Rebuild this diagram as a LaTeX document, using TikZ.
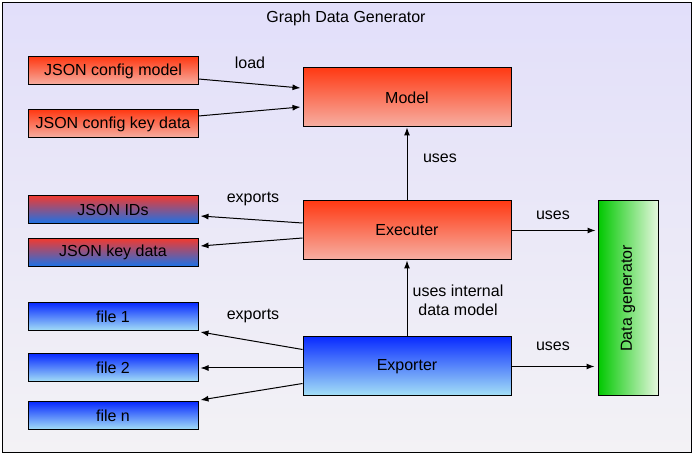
\documentclass[tikz,border=0pt]{standalone}
\usepackage{fontspec}
\setmainfont{Liberation Sans}
\usetikzlibrary{arrows.meta,calc}
\definecolor{bgtop}{HTML}{E2DFFA}
\definecolor{bgbot}{HTML}{F3F2F5}
\definecolor{redtop}{HTML}{FF3A14}
\definecolor{redbot}{HTML}{F6B0A4}
\definecolor{rbtop}{HTML}{F03A30}
\definecolor{rbbot}{HTML}{1A72E8}
\definecolor{bluetop}{HTML}{0A2CFF}
\definecolor{bluebot}{HTML}{A6E2F6}
\definecolor{greenl}{HTML}{00C800}
\definecolor{greenr}{HTML}{E6F7DE}
\tikzset{
  box/.style={draw=black, line width=0.75pt, rectangle, inner sep=0pt,
    font=\fontsize{12}{14}\selectfont},
  redbox/.style={box, top color=redtop, bottom color=redbot},
  rbbox/.style={box, top color=rbtop, bottom color=rbbot},
  bluebox/.style={box, top color=bluetop, bottom color=bluebot},
  small/.style={minimum width=127.5pt, minimum height=21pt},
  big/.style={minimum width=156pt, minimum height=44.25pt},
  conn/.style={line width=0.75pt, -{Latex[length=6pt,width=4.5pt]}},
  lbl/.style={font=\fontsize{12}{14}\selectfont, align=center, inner sep=0pt}
}
\begin{document}
\begin{tikzpicture}[x=0.75pt,y=-0.75pt]
\useasboundingbox (0,0) rectangle (694,456);
\path[draw=black, line width=0.75pt, top color=bgtop, bottom color=bgbot] (2.5,2.5) rectangle (691,453);
\node[lbl] (title) at (346,18) {Graph Data Generator};

\node[redbox, small] (cm) at (113,71) {JSON config model};
\node[redbox, small] (ck) at (113,124) {JSON config key data};
\node[rbbox, small] (ids) at (113,209.5) {JSON IDs};
\node[rbbox, small] (kd) at (113,252.5) {JSON key data};
\node[bluebox, small] (f1) at (113,317) {file 1};
\node[bluebox, small] (f2) at (113,368) {file 2};
\node[bluebox, small] (fn) at (113,416) {file n};

\node[redbox, big] (model) at (407,97.5) {Model};
\node[redbox, big] (exec) at (407,230.5) {Executer};
\node[bluebox, big] (expo) at (407,366.5) {Exporter};
\node[box, minimum width=45pt, minimum height=146.25pt, left color=greenl, right color=greenr] (dg) at (628,298.5) {};
\node[lbl, rotate=90] (dgt) at (dg.center) {Data generator};

% load arrows
\draw[conn] ($(cm.east)+(0,8)$) -- ($(model.west)+(-2,-9.5)$);
\draw[conn] ($(ck.east)+(0,-8)$) -- ($(model.west)+(-2,9.5)$);
\node[lbl] (l1) at (250,63) {load};

% uses model
\draw[conn] (exec.north) -- (model.south);
\node[lbl] (l2) at (440,158) {uses};

% exports json
\draw[conn] ($(exec.west)+(0,-7.5)$) -- ($(ids.east)+(2,6.5)$);
\draw[conn] ($(exec.west)+(0,7.5)$) -- ($(kd.east)+(2,-6.5)$);
\node[lbl] (l3) at (253,199) {exports};

% uses data generator
\draw[conn] (exec.east) -- ($(dg.west |- exec.east)+(-2,0)$);
\node[lbl] (l4) at (553,215) {uses};
\draw[conn] (expo.east) -- ($(dg.west |- expo.east)+(-3,0)$);
\node[lbl] (l5) at (553,346) {uses};

% exporter to executer
\draw[conn] (expo.north) -- (exec.south);
\node[lbl] (l6) at (458,300) {uses internal\\data model};

% exports files
\draw[conn] ($(expo.west)+(0,-17)$) -- ($(f1.east)+(2,15)$);
\draw[conn] (expo.west |- f2.east) -- ($(f2.east)+(2,0)$);
\draw[conn] ($(expo.west)+(0,17)$) -- ($(fn.east)+(2,-16)$);
\node[lbl] (l7) at (253,316) {exports};
\end{tikzpicture}
\end{document}
